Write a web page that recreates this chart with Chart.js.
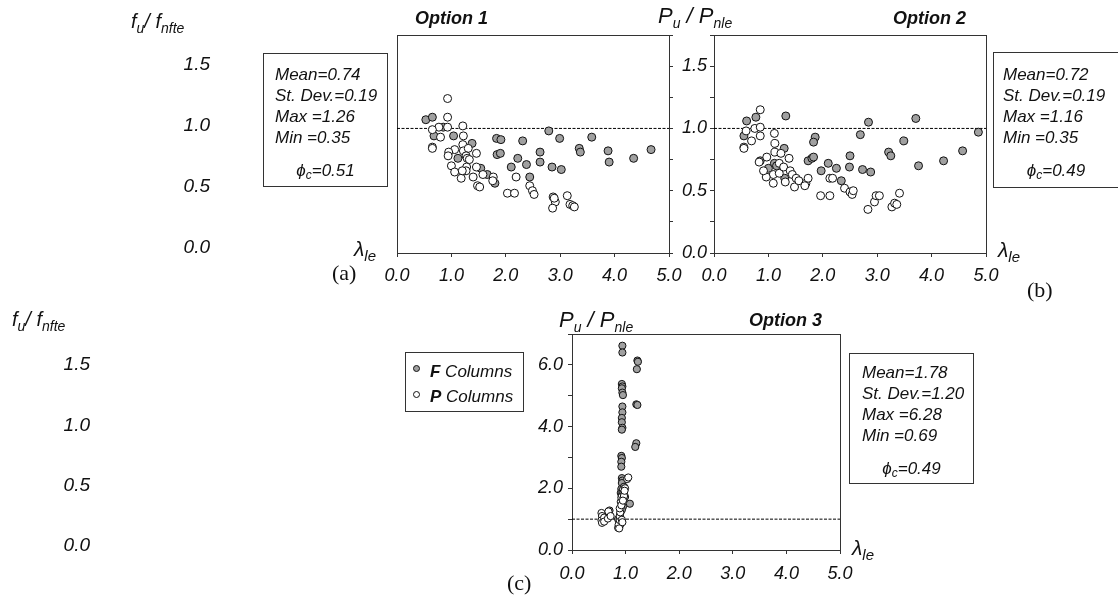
<!DOCTYPE html>
<html><head><meta charset="utf-8">
<script src="https://cdn.jsdelivr.net/npm/chart.js@4.4.1/dist/chart.umd.min.js"></script>
<style>
html,body{margin:0;padding:0;background:#fff;width:1118px;height:598px;overflow:hidden;}
body{position:relative;font-family:"Liberation Sans",Arial,sans-serif;color:#111;}
canvas{position:absolute;}
.t{position:absolute;white-space:nowrap;line-height:1;}
.box{position:absolute;border:1px solid #333;box-sizing:border-box;}
.sub{position:relative;top:5px;font-size:14px;}
</style></head><body>
<canvas id="ca" width="560" height="265" style="left:130px;top:25px"></canvas>
<canvas id="cb" width="350" height="265" style="left:650px;top:25px"></canvas>
<canvas id="cc" width="860" height="278" style="left:0px;top:320px"></canvas>
<script>
// ---------- data ----------
const xTickValues = [0, 1, 2, 3, 4, 5];
const sideTickLabels = ['0.0', '0.5', '1.0', '1.5'];
const referenceRatio = 1.0;
const statsA = ['Mean=0.74', 'St. Dev.=0.19', 'Max =1.26', 'Min =0.35'];
const phiA = '0.51';
const statsB = ['Mean=0.72', 'St. Dev.=0.19', 'Max =1.16', 'Min =0.35'];
const phiB = '0.49';
const statsC = ['Mean=1.78', 'St. Dev.=1.20', 'Max =6.28', 'Min =0.69'];
const phiC = '0.49';
const legendNames = ['F', 'P'];

const option1F = [[0.53,1.07],[0.65,1.09],[0.68,0.94],[0.85,1.01],[1.04,0.94],[1.12,0.76],[1.38,0.88],[1.54,0.68],[1.66,0.63],[1.80,0.56],[1.83,0.92],[1.91,0.91],[1.84,0.79],[1.90,0.80],[2.10,0.69],[2.22,0.76],[2.31,0.90],[2.38,0.71],[2.44,0.61],[2.63,0.81],[2.63,0.73],[2.79,0.98],[2.85,0.69],[2.99,0.92],[3.02,0.67],[3.35,0.84],[3.37,0.81],[3.58,0.93],[3.88,0.82],[3.90,0.73],[4.35,0.76],[4.67,0.83]];
const option1P = [[0.93,1.24],[0.93,1.09],[0.93,1.01],[0.77,1.01],[0.65,0.99],[0.80,0.93],[1.21,1.02],[1.22,0.94],[0.65,0.85],[0.65,0.84],[1.06,0.83],[0.95,0.81],[0.94,0.78],[1.00,0.70],[1.06,0.65],[1.18,0.60],[1.21,0.87],[1.22,0.82],[1.31,0.84],[1.27,0.78],[1.29,0.76],[1.33,0.75],[1.28,0.69],[1.27,0.66],[1.20,0.66],[1.46,0.80],[1.46,0.69],[1.40,0.61],[1.48,0.54],[1.52,0.53],[1.58,0.63],[1.77,0.61],[1.76,0.58],[2.03,0.48],[2.16,0.48],[2.19,0.61],[2.44,0.54],[2.49,0.50],[2.52,0.47],[2.87,0.45],[2.91,0.41],[2.86,0.36],[2.89,0.44],[3.13,0.46],[3.18,0.39],[3.23,0.38],[3.26,0.37]];

const option2F = [[0.55,0.94],[0.60,1.06],[0.77,1.09],[1.32,1.10],[0.85,0.74],[1.00,0.68],[1.11,0.72],[1.15,0.70],[1.29,0.84],[1.30,0.60],[1.73,0.74],[1.80,0.76],[1.83,0.77],[1.86,0.93],[1.83,0.89],[1.97,0.66],[2.10,0.72],[2.25,0.68],[2.34,0.58],[2.50,0.78],[2.49,0.69],[2.69,0.95],[2.73,0.67],[2.84,1.05],[2.88,0.65],[3.21,0.81],[3.25,0.78],[3.49,0.90],[3.71,1.08],[3.76,0.70],[4.22,0.74],[4.57,0.82],[4.86,0.97]];
const option2P = [[0.59,0.98],[0.55,0.85],[0.55,0.84],[0.69,0.90],[0.75,1.00],[0.85,1.15],[0.85,1.01],[0.85,0.94],[0.83,0.73],[0.97,0.77],[1.11,0.96],[1.12,0.88],[1.12,0.81],[1.09,0.63],[1.09,0.56],[0.96,0.61],[0.91,0.66],[1.20,0.64],[1.20,0.72],[1.23,0.80],[1.28,0.69],[1.31,0.57],[1.38,0.76],[1.40,0.66],[1.44,0.63],[1.48,0.53],[1.51,0.60],[1.56,0.58],[1.69,0.56],[1.73,0.60],[1.67,0.54],[1.96,0.46],[2.13,0.46],[2.13,0.60],[2.18,0.60],[2.40,0.52],[2.50,0.49],[2.54,0.47],[2.56,0.50],[2.83,0.35],[2.95,0.41],[2.98,0.46],[3.04,0.46],[3.27,0.37],[3.32,0.40],[3.36,0.39],[3.41,0.48]];

const option3F = [[0.94,6.62],[0.94,6.40],[1.22,6.14],[1.23,6.10],[1.21,5.86],[0.93,5.38],[0.94,5.30],[0.93,5.24],[0.94,5.10],[0.95,5.02],[1.20,4.72],[1.22,4.70],[0.94,4.65],[0.94,4.46],[0.93,4.28],[0.93,4.14],[0.94,3.96],[0.93,3.90],[1.20,3.46],[1.18,3.34],[0.92,3.05],[0.93,2.98],[0.92,2.86],[0.92,2.70],[0.93,2.33],[0.94,2.25],[0.93,2.17],[0.92,1.98],[0.95,1.93],[0.91,1.85],[1.08,1.50],[0.95,1.40],[0.93,1.30],[0.90,1.18],[0.90,1.05],[0.88,0.95],[0.90,0.84],[0.89,0.78],[0.63,1.02],[0.70,1.28],[0.97,2.05],[0.99,1.72],[0.96,1.62],[0.86,1.00],[0.93,0.92]];
const option3P = [[0.55,1.20],[0.56,1.10],[0.55,0.96],[0.56,0.88],[0.60,1.05],[0.60,0.92],[0.68,1.25],[0.67,1.02],[0.72,1.10],[0.86,0.72],[0.87,0.82],[0.88,0.70],[0.89,0.97],[0.89,1.10],[0.90,1.22],[0.89,1.35],[0.91,1.56],[0.92,1.70],[0.93,1.78],[0.94,1.89],[0.95,1.95],[0.96,1.85],[0.97,1.80],[0.99,2.00],[1.03,2.30],[1.05,2.35],[0.97,1.75],[0.92,1.45],[0.93,0.98],[0.94,0.90],[0.95,1.60],[0.98,1.92]];

// ---------- helpers ----------
const FONT = '"Liberation Sans", Arial, sans-serif';
const AX = '#333';
const GREY = '#a0a0a0';
const pts = arr => arr.map(p => ({x: p[0], y: p[1]}));
function noPad(s) { s.paddingTop = 0; s.paddingBottom = 0; s.paddingLeft = 0; s.paddingRight = 0; }
function sets(F, P, r) {
  const ax = {xAxisID: 'x', yAxisID: 'y'};
  return [
    Object.assign({data: pts(P), backgroundColor: '#fff', borderColor: '#111', borderWidth: 1, pointRadius: r, order: 0}, ax),
    Object.assign({data: pts(F), backgroundColor: GREY, borderColor: '#111', borderWidth: 1, pointRadius: r, order: 1}, ax),
    Object.assign({data: [{x: 0, y: referenceRatio}, {x: 5, y: referenceRatio}], showLine: true, borderColor: '#000', borderWidth: 1, borderDash: [3, 1.5], pointRadius: 0, order: 5}, ax)
  ];
}
function xAxis(h, pad) {
  return {type: 'linear', position: 'bottom', min: 0, max: 5,
    afterBuildTicks: s => { s.ticks = xTickValues.map(v => ({value: v})); },
    ticks: {autoSkip: false, padding: pad, color: '#111', font: {family: FONT, size: 18, style: 'italic'}, callback: v => Number(v).toFixed(1)},
    grid: {display: true, drawOnChartArea: false, drawTicks: true, tickLength: 4, color: AX},
    border: {display: true, color: AX},
    afterFit: s => { s.height = h; noPad(s); }};
}
function edgeAxis(pos, size, weight) {
  const horiz = pos === 'top' || pos === 'bottom';
  return {type: 'linear', position: pos, min: 0, max: 1, display: true, weight: weight || 0,
    ticks: {display: false}, grid: {display: false, drawTicks: false},
    border: {display: true, color: AX},
    afterFit: s => { if (horiz) s.height = size || 0; else s.width = size || 0; noPad(s); }};
}
function sideLabels(min, max, w, pad) {
  return {type: 'linear', position: 'left', min: min, max: max, weight: 1,
    afterBuildTicks: s => { s.ticks = sideTickLabels.map(v => ({value: parseFloat(v)})); },
    ticks: {autoSkip: false, padding: pad, color: '#111', font: {family: FONT, size: 19, style: 'italic'}, callback: v => Number(v).toFixed(1)},
    grid: {display: false, drawTicks: false},
    border: {display: false},
    afterFit: s => { s.width = w; noPad(s); }};
}
const base = {responsive: false, animation: false, devicePixelRatio: 1,
  plugins: {legend: {display: false}, tooltip: {enabled: false}}};

// Panel (a)
new Chart(document.getElementById('ca'), {type: 'scatter',
  data: {datasets: sets(option1F, option1P, 4)},
  options: Object.assign({}, base, {layout: {padding: {top: 10, right: 0, left: 0, bottom: 0}},
    scales: {
      x: xAxis(37, 8),
      y: {type: 'linear', position: 'right', min: 0, max: 1.75, weight: 0,
        ticks: {display: false, stepSize: 0.25},
        grid: {display: true, drawOnChartArea: false, drawTicks: true, tickLength: 4, color: AX},
        border: {display: true, color: AX},
        afterFit: s => { s.width = 21; noPad(s); }},
      xT: edgeAxis('top'),
      yB: edgeAxis('left', 184, 0),
      yL: sideLabels(-0.042, 1.739, 83, 3)
    }})});

// Panel (b)
new Chart(document.getElementById('cb'), {type: 'scatter',
  data: {datasets: sets(option2F, option2P, 4)},
  options: Object.assign({}, base, {layout: {padding: {top: 10, right: 14, left: 0, bottom: 0}},
    scales: {
      x: xAxis(37, 8),
      y: {type: 'linear', position: 'left', min: 0, max: 1.75,
        ticks: {stepSize: 0.25, autoSkip: false, padding: 3, color: '#111', font: {family: FONT, size: 18, style: 'italic'},
          callback: v => (Math.abs(v * 2 - Math.round(v * 2)) < 1e-6 && v < 1.7) ? Number(v).toFixed(1) : ''},
        grid: {display: true, drawOnChartArea: false, drawTicks: true, tickLength: 4, color: AX},
        border: {display: true, color: AX},
        afterFit: s => { s.width = 64; noPad(s); }},
      xT: edgeAxis('top'),
      yR: edgeAxis('right')
    }})});

// Panel (c)
new Chart(document.getElementById('cc'), {type: 'scatter',
  data: {datasets: sets(option3F, option3P, 3.6)},
  options: Object.assign({}, base, {layout: {padding: {top: 14, right: 20, left: 0, bottom: 0}},
    scales: {
      x: xAxis(48, 9),
      y: {type: 'linear', position: 'left', min: 0, max: 7, weight: 0,
        ticks: {stepSize: 1, autoSkip: false, padding: 5, color: '#111', font: {family: FONT, size: 18, style: 'italic'},
          callback: v => (v % 2 === 0 && v < 7) ? Number(v).toFixed(1) : ''},
        grid: {display: true, drawOnChartArea: false, drawTicks: true, tickLength: 4, color: AX},
        border: {display: true, color: AX},
        afterFit: s => { s.width = 472; noPad(s); }},
      xT: edgeAxis('top'),
      yR: edgeAxis('right'),
      yL: sideLabels(-0.038, 1.759, 100, 10)
    }})});

// ---------- text overlays ----------
function place(html, x, baseline, size, extra) {
  const d = document.createElement('div');
  d.className = 't';
  d.style.left = x + 'px';
  d.style.top = (baseline - 0.83 * size) + 'px';
  d.style.fontSize = size + 'px';
  d.style.cssText += (extra || '');
  d.innerHTML = html;
  document.body.appendChild(d);
  return d;
}
function box(x, y, w, h) {
  const d = document.createElement('div');
  d.className = 'box';
  d.style.left = x + 'px'; d.style.top = y + 'px';
  d.style.width = w + 'px'; d.style.height = h + 'px';
  document.body.appendChild(d);
}
function statBox(lines, phi, x, y, w, h, textX, firstBase) {
  box(x, y, w, h);
  lines.forEach((s, i) => place(s, textX, firstBase + i * 21, 17, 'font-style:italic;'));
  place('&#981;<span style="font-size:12px;position:relative;top:3px">c</span>=' + phi,
    x, firstBase + 96, 17, 'font-style:italic;width:' + w + 'px;text-align:center;');
}
const italic = 'font-style:italic;';
const bold = 'font-style:italic;font-weight:bold;';
const fLabel = '<i>f</i><span class="sub"><i>u</i></span><i>/ f</i><span class="sub"><i>nfte</i></span>';
const pLabel = '<i>P</i><span class="sub"><i>u</i></span><i> / P</i><span class="sub"><i>nle</i></span>';
const lam = '<i>&lambda;</i><span class="sub" style="font-size:15px"><i>le</i></span>';

place(fLabel, 131, 28, 20);
place(fLabel, 12, 326, 20);
place(pLabel, 658, 23, 22);
place(pLabel, 559, 327, 22);
place('Option 1', 415, 24, 18, bold);
place('Option 2', 893, 24, 18, bold);
place('Option 3', 749, 326, 18, bold);
place(lam, 354, 255, 21);
place(lam, 998, 256, 21);
place(lam, 852, 554, 21);
place('(a)', 332, 280, 22, 'font-family:"Liberation Serif","Times New Roman",serif;');
place('(b)', 1027, 297, 22, 'font-family:"Liberation Serif","Times New Roman",serif;');
place('(c)', 507, 590, 22, 'font-family:"Liberation Serif","Times New Roman",serif;');

statBox(statsA, phiA, 263, 53, 125, 134, 275, 80);
statBox(statsB, phiB, 993, 52, 126, 136, 1003, 80);
statBox(statsC, phiC, 849, 353, 125, 131, 862, 378);

// legend
box(405, 352, 119, 60);
const legendFill = [GREY, '#fff'];
legendNames.forEach((n, i) => {
  const c = document.createElement('div');
  c.style.cssText = 'position:absolute;width:7px;height:7px;border:1px solid #111;border-radius:50%;box-sizing:border-box;background:' + legendFill[i] + ';left:' + 413 + 'px;top:' + (365 + i * 26) + 'px;';
  document.body.appendChild(c);
  place('<b>' + n + '</b> Columns', 430, 377 + i * 25, 17, italic);
});
</script>
</body></html>
